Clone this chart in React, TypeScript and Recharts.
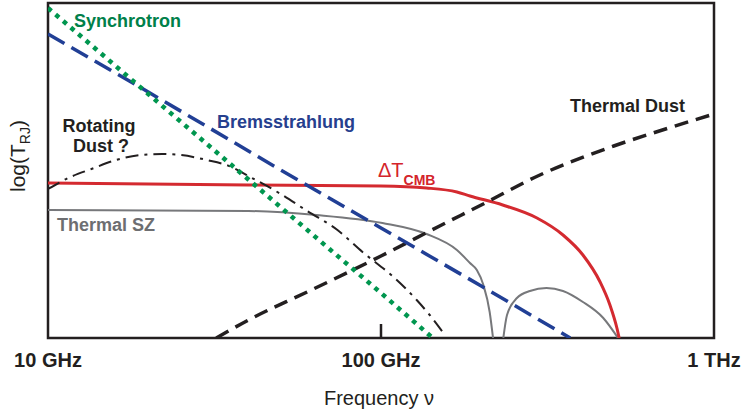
import React from "react";
import { LineChart, Line, XAxis, YAxis, ReferenceArea, ReferenceLine } from "recharts";

// frequencies in GHz, values are log(T_RJ) in arbitrary units (0 = bottom of frame)
const freqTicks = [10, 100, 1000];
const tickLabels = ["10 GHz", "100 GHz", "1 THz"];

const syncFreq = [10, 20, 35, 70, 100, 143];
const syncVal = [330, 244, 175, 89, 45, 0];

const bremsFreq = [10, 20, 50, 100, 200, 370];
const bremsVal = [304, 246, 168, 110, 52, 0];

const spinFreq = [10, 11.5, 13.5, 16, 19, 22, 25, 30, 35, 41, 50, 60, 74, 88, 109, 128, 140, 154];
const spinVal = [149, 160, 169, 178, 183, 184, 183, 178, 172, 160, 144, 127, 108, 86, 61, 38, 23, 5];

const cmbFreq = [10, 40, 100, 137, 169, 185, 232, 294, 352, 404, 455, 487, 511, 519];
const cmbVal = [155, 153, 152, 150, 146, 142, 133, 120, 103, 83, 56, 33, 10, 0];

const szLowFreq = [10, 40, 64, 101, 137, 169, 185, 194, 203, 212, 217];
const szLowVal = [128, 127, 123, 115, 104, 88, 75, 68, 53, 26, 0];
const szHighFreq = [233, 239, 256, 280, 314, 352, 404, 465, 515];
const szHighVal = [0, 23, 40, 47, 50, 47, 36, 20, 0];

const dustFreq = [32, 40, 60, 80, 100, 150, 200, 300, 500, 700, 1000];
const dustVal = [0, 18, 46, 66, 82, 112, 133, 163, 192, 208, 224];

const toRows = (fs: number[], vs: number[]) => fs.map((f, i) => ({ f, v: vs[i] }));

const sync = toRows(syncFreq, syncVal);
const brems = toRows(bremsFreq, bremsVal);
const spin = toRows(spinFreq, spinVal);
const cmb = toRows(cmbFreq, cmbVal);
const szLow = toRows(szLowFreq, szLowVal);
const szHigh = toRows(szHighFreq, szHighVal);
const dust = toRows(dustFreq, dustVal);

const FONT = "'Liberation Sans', Arial, Helvetica, sans-serif";
const INK = "#231f20";

const AxisTick = ({ x, y, payload }: any) => (
  <text x={x} y={y} dy={29} textAnchor="middle" fontSize={20} fontWeight="bold" fill={INK} fontFamily={FONT}>
    {tickLabels[freqTicks.indexOf(payload.value)]}
  </text>
);

export default function App() {
  return (
    <div style={{ position: "absolute", left: 0, top: 0, background: "#fff" }}>
      <LineChart width={742} height={410} margin={{ top: 3, right: 28, bottom: 42, left: 48 }}>
        <XAxis
          dataKey="f"
          type="number"
          scale="log"
          domain={[10, 1000]}
          ticks={freqTicks}
          allowDataOverflow
          axisLine={false}
          tickLine={false}
          tickSize={0}
          tickMargin={0}
          height={30}
          tick={<AxisTick />}
        />
        <YAxis hide type="number" domain={[0, 335]} allowDataOverflow />
        <ReferenceArea x1={10} x2={1000} y1={0} y2={335} fill="none" stroke={INK} strokeWidth={2.5} />
        <ReferenceLine segment={[{ x: 100, y: 0 }, { x: 100, y: 14 }]} stroke={INK} strokeWidth={2.5} />

        <Line data={szLow} dataKey="v" type="monotone" stroke="#77787b" strokeWidth={2} dot={false} isAnimationActive={false} />
        <Line data={szHigh} dataKey="v" type="monotone" stroke="#77787b" strokeWidth={2} dot={false} isAnimationActive={false} />
        <Line data={cmb} dataKey="v" type="monotone" stroke="#d42a30" strokeWidth={3} dot={false} isAnimationActive={false} />
        <Line data={dust} dataKey="v" type="monotone" stroke={INK} strokeWidth={3.5} strokeDasharray="14 8" dot={false} isAnimationActive={false} />
        <Line data={spin} dataKey="v" type="monotone" stroke={INK} strokeWidth={2} strokeDasharray="13 6 3 6" dot={false} isAnimationActive={false} />
        <Line data={brems} dataKey="v" type="linear" stroke="#213f95" strokeWidth={3.5} strokeDasharray="19 8" dot={false} isAnimationActive={false} />
        <Line data={sync} dataKey="v" type="linear" stroke="#00964f" strokeWidth={4.5} strokeDasharray="4.5 5.5" dot={false} isAnimationActive={false} />

        <g fontFamily={FONT} fontWeight="bold" fontSize={18}>
          <text x={74} y={27} fill="#00804a">Synchrotron</text>
          <text x={217} y={128} fill="#263f8e">Bremsstrahlung</text>
          <text x={99} y={132} fill={INK} textAnchor="middle">Rotating</text>
          <text x={101} y={152} fill={INK} textAnchor="middle">Dust ?</text>
          <text x={570} y={112} fill={INK}>Thermal Dust</text>
          <text x={57} y={231} fill="#6d6e71">Thermal SZ</text>
        </g>
        <text x={378} y={177} fill="#d4242b" fontFamily={FONT} fontSize={20}>
          ΔT<tspan dy={8} fontSize={14} fontWeight="bold">CMB</tspan>
        </text>
        <text x={379} y={405} textAnchor="middle" fill={INK} fontFamily={FONT} fontSize={20}>
          Frequency ν
        </text>
        <text x={25} y={156} transform="rotate(-90 25 156)" textAnchor="middle" fill={INK} fontFamily={FONT} fontSize={21}>
          log(T<tspan dy={5} fontSize={14}>RJ</tspan><tspan dy={-5}>)</tspan>
        </text>
      </LineChart>
    </div>
  );
}
